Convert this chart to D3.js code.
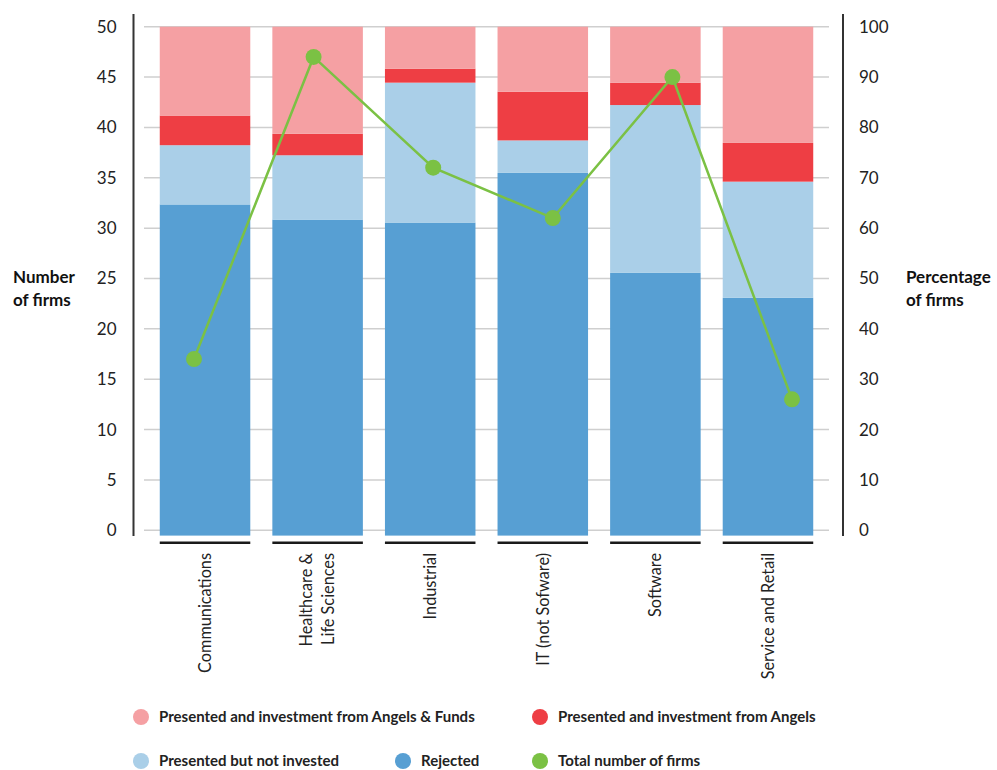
<!DOCTYPE html>
<html>
<head>
<meta charset="utf-8">
<script src="https://cdn.jsdelivr.net/npm/d3@7"></script>
<style>
  html, body { margin: 0; padding: 0; background: #fff; }
  svg { display: block; font-family: Lato, "Open Sans", sans-serif; }
</style>
</head>
<body>
<svg id="chart" width="997" height="770"></svg>
<script>
// Sectors and firm counts per outcome
const categories = ["Communications", "Healthcare & Life Sciences", "Industrial", "IT (not Sofware)", "Software", "Service and Retail"];
const categoryLines = [["Communications"], ["Healthcare &", "Life Sciences"], ["Industrial"], ["IT (not Sofware)"], ["Software"], ["Service and Retail"]];
const rejected      = [11, 29, 22, 22, 23, 6];
const notInvested   = [2, 6, 10, 2, 15, 3];
const angels        = [1, 2, 1, 3, 2, 1];
const angelsFunds   = [3, 10, 3, 4, 5, 3];
const leftTicks  = [0, 5, 10, 15, 20, 25, 30, 35, 40, 45, 50];
const rightTicks = [0, 10, 20, 30, 40, 50, 60, 70, 80, 90, 100];

const seriesNames = ["Rejected", "Presented but not invested", "Presented and investment from Angels", "Presented and investment from Angels & Funds"];
const seriesData = [rejected, notInvested, angels, angelsFunds];
const colors = {
  "Rejected": "#579fd3",
  "Presented but not invested": "#aacfe8",
  "Presented and investment from Angels": "#ee3e44",
  "Presented and investment from Angels & Funds": "#f5a0a3",
  "Total number of firms": "#7bc144"
};

// totals per sector and rows for stacking as shares of each sector
const totals = categories.map((c, i) => seriesData.reduce((s, arr) => s + arr[i], 0));
const rows = categories.map((c, i) => {
  const r = { category: c };
  seriesNames.forEach((n, k) => { r[n] = seriesData[k][i] / totals[i] * 100; });
  return r;
});

const svg = d3.select("#chart");
const plotLeft = 144, plotRight = 829, plotTop = 26.7, plotBottom = 530.3;
const barBase = 535.6; // bars run a little past the zero gridline

const x = d3.scaleBand().domain(categories).range([plotLeft, plotRight]).paddingInner(0.196).paddingOuter(0.14);
const xLine = d3.scalePoint().domain(categories).range([194, 792]);
const yLeft = d3.scaleLinear().domain([0, 50]).range([plotBottom, plotTop]);
const yRight = d3.scaleLinear().domain([0, 100]).range([plotBottom, plotTop]);

// gridlines
svg.append("g").selectAll("line").data(leftTicks).join("line")
  .attr("x1", plotLeft).attr("x2", plotRight)
  .attr("y1", d => yLeft(d)).attr("y2", d => yLeft(d))
  .attr("stroke", "#cfcfcf").attr("stroke-width", 1.5);

// stacked bars (percent of firms in each sector)
const stack = d3.stack().keys(seriesNames)(rows);
const segBottom = d => d[0] === 0 ? barBase : yRight(d[0]);
svg.append("g").selectAll("g").data(stack).join("g")
  .attr("fill", d => colors[d.key])
  .selectAll("rect").data(d => d).join("rect")
  .attr("x", d => x(d.data.category))
  .attr("width", x.bandwidth())
  .attr("y", d => yRight(d[1]))
  .attr("height", d => segBottom(d) - yRight(d[1]));

// underline beneath each bar
svg.append("g").selectAll("line").data(categories).join("line")
  .attr("x1", d => x(d)).attr("x2", d => x(d) + x.bandwidth())
  .attr("y1", 542.7).attr("y2", 542.7)
  .attr("stroke", "#1a1a1a").attr("stroke-width", 2.5);

// left axis
const leftAxis = svg.append("g").attr("transform", "translate(133.5,0)")
  .call(d3.axisLeft(yLeft).tickValues(leftTicks).tickSize(0).tickPadding(17));
leftAxis.select(".domain").remove();
leftAxis.append("line").attr("x1", 0).attr("x2", 0).attr("y1", 14).attr("y2", 536)
  .attr("stroke", "#333").attr("stroke-width", 2);

// right axis
const rightAxis = svg.append("g").attr("transform", "translate(843,0)")
  .call(d3.axisRight(yRight).tickValues(rightTicks).tickSize(0).tickPadding(16));
rightAxis.select(".domain").remove();
rightAxis.append("line").attr("x1", 0).attr("x2", 0).attr("y1", 14).attr("y2", 536)
  .attr("stroke", "#333").attr("stroke-width", 2);

svg.selectAll(".tick text")
  .attr("font-family", "Lato, 'Open Sans', sans-serif")
  .attr("font-size", 17).attr("fill", "#222");

// axis titles
const titleStyle = t => t.attr("font-size", 17).attr("font-weight", "bold").attr("fill", "#111");
svg.append("text").attr("x", 13).attr("y", 283).text("Number").call(titleStyle);
svg.append("text").attr("x", 13).attr("y", 306).text("of firms").call(titleStyle);
svg.append("text").attr("x", 906).attr("y", 283).text("Percentage").call(titleStyle);
svg.append("text").attr("x", 906).attr("y", 306).text("of firms").call(titleStyle);

// category labels, rotated
const catG = svg.append("g").selectAll("g").data(categories).join("g")
  .attr("transform", d => `translate(${x(d) + x.bandwidth() / 2},553) rotate(-90)`);
catG.each(function(d, i) {
  const lines = categoryLines[i];
  const g = d3.select(this);
  lines.forEach((ln, j) => {
    g.append("text")
      .attr("x", 0)
      .attr("y", (j - (lines.length - 1) / 2) * 22)
      .attr("dy", "0.35em")
      .attr("text-anchor", "end")
      .attr("font-size", 16.3).attr("fill", "#222")
      .text(ln);
  });
});

// total firms line
const line = d3.line().x((d, i) => xLine(categories[i])).y(d => yLeft(d));
svg.append("path").datum(totals)
  .attr("d", line).attr("fill", "none")
  .attr("stroke", colors["Total number of firms"]).attr("stroke-width", 2.5);
svg.append("g").selectAll("circle").data(totals).join("circle")
  .attr("cx", (d, i) => xLine(categories[i])).attr("cy", d => yLeft(d))
  .attr("r", 8).attr("fill", colors["Total number of firms"]);

// legend
const legendItems = [
  { name: "Presented and investment from Angels & Funds", x: 141, y: 717 },
  { name: "Presented and investment from Angels", x: 540, y: 717 },
  { name: "Presented but not invested", x: 141, y: 761 },
  { name: "Rejected", x: 403, y: 761 },
  { name: "Total number of firms", x: 540, y: 761 }
];
const lg = svg.append("g").selectAll("g").data(legendItems).join("g")
  .attr("transform", d => `translate(${d.x},${d.y})`);
lg.append("circle").attr("r", 8).attr("fill", d => colors[d.name]);
lg.append("text").attr("x", 18).attr("dy", "0.35em")
  .attr("font-size", 15).attr("font-weight", "bold").attr("fill", "#222")
  .text(d => d.name);
</script>
</body>
</html>
